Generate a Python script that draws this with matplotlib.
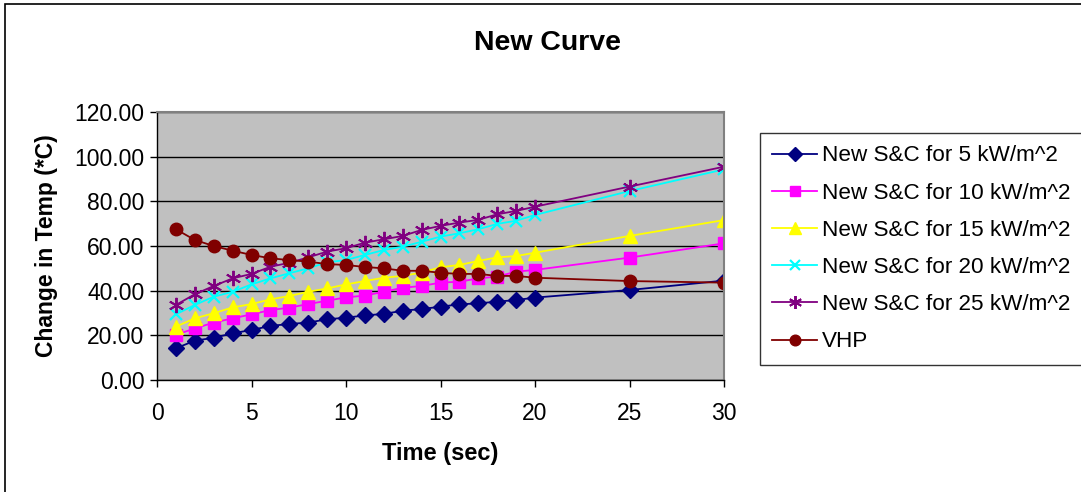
import matplotlib.pyplot as plt
import matplotlib.patches as patches
from matplotlib.ticker import FormatStrFormatter

plt.rcParams['font.family'] = ['Liberation Sans', 'DejaVu Sans']

time_s = [1, 2, 3, 4, 5, 6, 7, 8, 9, 10, 11, 12, 13, 14, 15, 16, 17, 18, 19, 20, 25, 30]

sc_5 = [14.2, 17.6, 18.9, 20.9, 22.4, 24.2, 25.1, 25.7, 27.2, 27.9, 28.9, 29.6,
        31.0, 31.8, 32.8, 33.9, 34.3, 35.1, 35.8, 36.9, 40.3, 44.5]
sc_10 = [20.2, 23.1, 25.7, 27.6, 29.4, 31.3, 32.4, 34.0, 35.5, 37.0, 37.8, 39.5,
         41.3, 42.1, 43.6, 44.0, 45.5, 46.3, 48.5, 49.3, 54.8, 61.2]
sc_15 = [23.9, 27.6, 29.9, 32.5, 34.0, 36.1, 37.6, 39.5, 41.0, 42.8, 44.3, 45.8,
         46.6, 48.1, 50.5, 51.5, 53.3, 54.9, 55.5, 57.0, 64.5, 71.6]
sc_20 = [29.4, 33.6, 37.3, 39.5, 42.8, 45.5, 47.8, 50.0, 52.7, 53.7, 56.0, 58.2,
         59.7, 61.9, 64.2, 65.7, 67.5, 69.9, 71.3, 73.9, 84.6, 94.3]
sc_25 = [33.6, 38.4, 42.1, 45.5, 47.5, 50.7, 52.5, 54.9, 57.5, 59.0, 61.5, 63.0,
         64.5, 67.2, 69.0, 70.5, 71.7, 74.2, 75.7, 77.6, 86.6, 95.5]
vhp = [67.5, 62.7, 60.0, 57.9, 56.0, 54.5, 53.7, 53.0, 51.9, 51.5, 50.6, 50.0,
       48.9, 48.9, 48.0, 47.5, 47.5, 46.6, 46.6, 45.8, 44.3, 43.6]

series = [
    ('New S&C for 5 kW/m^2', sc_5, '#000080', 'D', 8),
    ('New S&C for 10 kW/m^2', sc_10, '#FF00FF', 's', 8),
    ('New S&C for 15 kW/m^2', sc_15, '#FFFF00', '^', 10),
    ('New S&C for 20 kW/m^2', sc_20, '#00FFFF', 'x', 9),
    ('New S&C for 25 kW/m^2', sc_25, '#800080', (6, 2, 0), 11),
    ('VHP', vhp, '#800000', 'o', 9),
]

fig = plt.figure(figsize=(10.81, 4.92), dpi=100)
ax = fig.add_axes([157 / 1081, 1 - 380 / 492, 567 / 1081, 268 / 492])
ax.set_facecolor('#C0C0C0')

# outer chart border (runs off the right and bottom edges)
fig.patches.append(patches.Rectangle((5 / 1081, -0.1), 1.1, 1 - 4 / 492 + 0.1,
                                     transform=fig.transFigure, fill=False,
                                     edgecolor='black', linewidth=1.2))

for label, vals, color, marker, ms in series:
    if marker == 'x':
        ax.plot(time_s, vals, color=color, marker=marker, markersize=ms,
                markeredgewidth=1.6, linewidth=1.3, label=label)
    elif isinstance(marker, tuple):
        ax.plot(time_s, vals, color=color, marker=marker, markersize=ms,
                markeredgewidth=1.4, linewidth=1.3, label=label)
    else:
        ax.plot(time_s, vals, color=color, marker=marker, markersize=ms,
                markeredgecolor=color, linewidth=1.3, label=label)

ax.set_xlim(0, 30)
ax.set_ylim(0, 120)
ax.set_xticks([0, 5, 10, 15, 20, 25, 30])
ax.set_yticks([0, 20, 40, 60, 80, 100, 120])
ax.yaxis.set_major_formatter(FormatStrFormatter('%.2f'))
ax.yaxis.grid(True, color='black', linewidth=1.0)
ax.set_axisbelow(True)

for side in ('top', 'right'):
    ax.spines[side].set_color('#808080')
    ax.spines[side].set_linewidth(1.5)
for side in ('left', 'bottom'):
    ax.spines[side].set_color('black')
    ax.spines[side].set_linewidth(1.0)

ax.tick_params(axis='both', direction='out', length=5, width=1, labelsize=16.5,
               color='black')
ax.tick_params(axis='x', pad=11)
ax.tick_params(axis='y', pad=4)

fig.text(547 / 1081, 1 - 43 / 492, 'New Curve', fontsize=20.5, fontweight='bold',
         ha='center', va='center')
ax.set_xlabel('Time (sec)', fontsize=17, fontweight='bold', labelpad=12)
ax.set_ylabel('Change in Temp (*C)', fontsize=16.5, fontweight='bold', labelpad=12)

leg = fig.legend(loc='upper left', bbox_to_anchor=(760 / 1081, 1 - 133 / 492),
                 fontsize=16.2, frameon=True, fancybox=False, handlelength=2.0,
                 handletextpad=0.2, labelspacing=0.72, borderpad=0.55,
                 borderaxespad=0, markerscale=0.85)
leg.get_frame().set_edgecolor('black')
leg.get_frame().set_linewidth(1.0)

fig.savefig('out.png', dpi=100)
